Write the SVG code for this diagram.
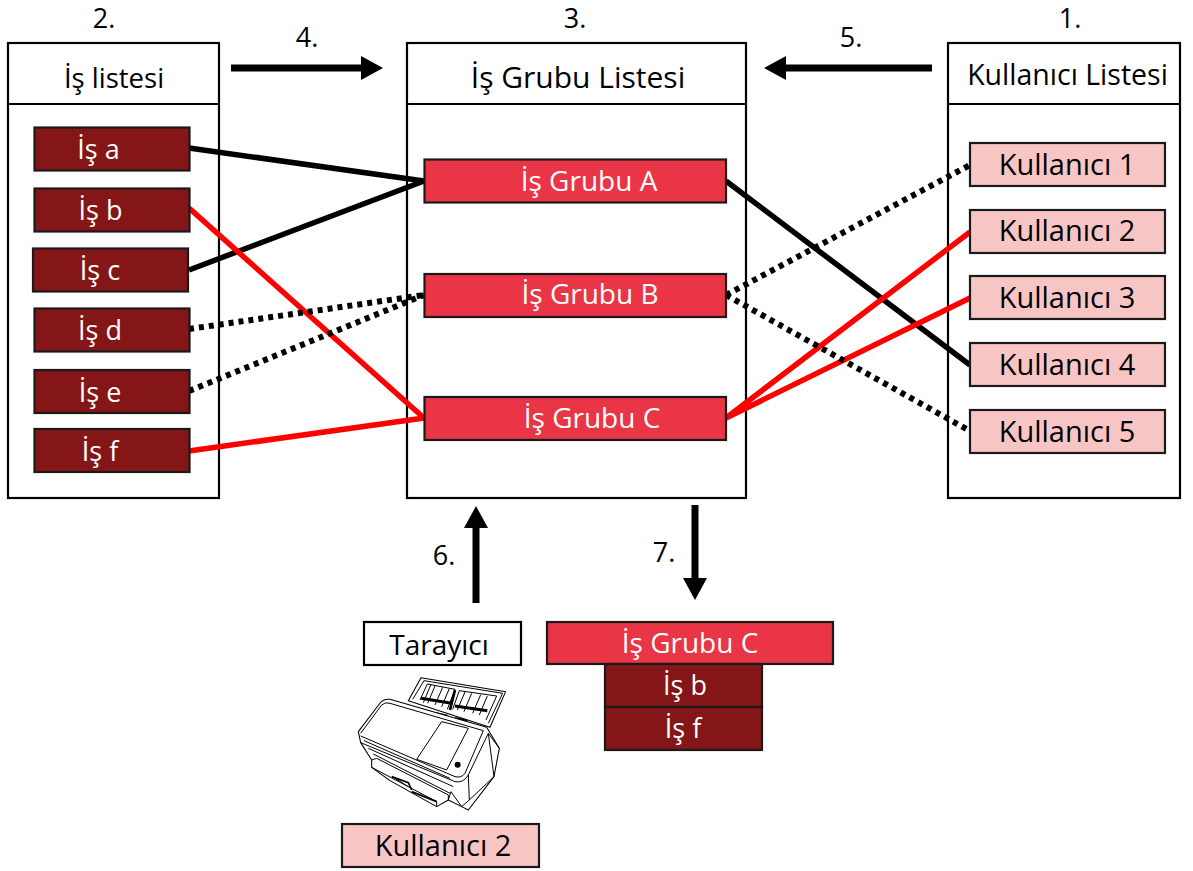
<svg xmlns="http://www.w3.org/2000/svg" width="1193" height="871" viewBox="0 0 1193 871">
<style>
text{font-family:"Open Sans","Noto Sans","Liberation Sans",sans-serif;font-size:27px;text-anchor:middle;fill:#000}
.panel{fill:#fff;stroke:#000;stroke-width:2.2}
.job{fill:#841617;stroke:#1a1a1a;stroke-width:2.2}
.grp{fill:#e93545;stroke:#1a1a1a;stroke-width:2.2}
.usr{fill:#f8c5c5;stroke:#1a1a1a;stroke-width:2.2}
text.w{fill:#fff}
text.m{font-size:28px}
text.l{font-size:29px}
.c{fill:none;stroke-width:5.5}
.k{stroke:#000}.r{stroke:#f00}.d{stroke:#000;stroke-width:6;stroke-dasharray:5 5}
.a{fill:none;stroke:#000;stroke-width:7}
.s{fill:#fff;stroke:#000;stroke-width:3.2;stroke-linejoin:round}
.t{fill:none;stroke:#000;stroke-width:3}
.f{fill:#000;stroke:none}
</style>
<defs><marker id="ah" markerUnits="userSpaceOnUse" markerWidth="24" markerHeight="24" refX="0" refY="12" orient="auto"><path d="M0 0L22 12L0 24Z" fill="#000"/></marker></defs>
<g id="panel-jobs"><rect class="panel" x="8" y="43" width="211" height="455"/><path class="panel" d="M8 104H219"/><text x="114" y="88" style="font-size:27.5px">İş listesi</text></g>
<g id="panel-groups"><rect class="panel" x="407" y="43" width="339" height="455"/><path class="panel" d="M407 104H746"/><text x="578" y="88" style="font-size:30px">İş Grubu Listesi</text></g>
<g id="panel-users"><rect class="panel" x="948" y="43" width="232" height="455"/><path class="panel" d="M948 104H1180"/><text x="1067.500" y="85" style="font-size:28.500px">Kullanıcı Listesi</text></g>
<g id="connectors">
<path class="c k" d="M189 148L424 181M189 270L424 181M726 181L970 365"/>
<path class="c r" d="M189 208L424 418M189 451L424 418M726 418L970 232M726 418L970 298"/>
<path class="c d" d="M189 329L424 295M189 391L424 295M726 295L970 165M726 295L970 431"/>
<path class="a" marker-end="url(#ah)" d="M231 68H361"/>
<path class="a" marker-end="url(#ah)" d="M932 68H786"/>
<path class="a" marker-end="url(#ah)" d="M476 603V528"/>
<path class="a" marker-end="url(#ah)" d="M695 505V578"/>
</g>
<g id="labels"><text x="104" y="28">2.</text><text x="307" y="47">4.</text><text x="575" y="28">3.</text><text x="851" y="47">5.</text><text x="1070" y="28">1.</text><text x="444" y="565">6.</text><text x="664" y="562">7.</text></g>
<g id="job-a"><rect class="job" x="34.500" y="127.500" width="155" height="43"/><text class="w" x="98.500" y="159">İş a</text></g>
<g id="job-b"><rect class="job" x="34.500" y="188.500" width="155" height="43"/><text class="w" x="100.500" y="220">İş b</text></g>
<g id="job-c"><rect class="job" x="33" y="248.500" width="155" height="43"/><text class="w" x="100" y="280">İş c</text></g>
<g id="job-d"><rect class="job" x="34.500" y="308.500" width="155" height="43"/><text class="w" x="100" y="340">İş d</text></g>
<g id="job-e"><rect class="job" x="34.500" y="370" width="155" height="43"/><text class="w" x="100" y="402">İş e</text></g>
<g id="job-f"><rect class="job" x="34.500" y="429" width="155" height="43"/><text class="w" x="100" y="461">İş f</text></g>
<g id="group-a"><rect class="grp" x="424.500" y="159.500" width="301.500" height="43"/><text class="w m" x="589" y="191">İş Grubu A</text></g>
<g id="group-b"><rect class="grp" x="424.500" y="274" width="301.500" height="43"/><text class="w m" x="590" y="304">İş Grubu B</text></g>
<g id="group-c"><rect class="grp" x="424.500" y="397" width="301.500" height="43"/><text class="w m" x="592" y="428">İş Grubu C</text></g>
<g id="user-1"><rect class="usr" x="970" y="143" width="195" height="43"/><text class="l" x="1067" y="175">Kullanıcı 1</text></g>
<g id="user-2"><rect class="usr" x="970" y="210" width="195" height="43"/><text class="l" x="1067" y="241">Kullanıcı 2</text></g>
<g id="user-3"><rect class="usr" x="970" y="276" width="195" height="43"/><text class="l" x="1067" y="308">Kullanıcı 3</text></g>
<g id="user-4"><rect class="usr" x="970" y="343" width="195" height="43"/><text class="l" x="1067" y="375">Kullanıcı 4</text></g>
<g id="user-5"><rect class="usr" x="970" y="410" width="195" height="43"/><text class="l" x="1067" y="442">Kullanıcı 5</text></g>
<g id="scanner-label"><rect class="panel" x="364" y="622" width="157" height="43"/><text class="m" x="439" y="655">Tarayıcı</text></g>
<g id="scanner" transform="translate(340 610) scale(.3333)">
<path class="s" d="M205 272L243 203L497 245L450 352Z"/>
<path class="t" d="M218 268L252 212L488 250L445 340M240 270L262 222L345 238L322 298M338 298L358 242L470 258L438 330"/>
<path class="t" d="M272 225L250 278M285 228L263 280M308 232L285 285M328 236L305 290M375 246L352 300M395 250L372 305M422 254L398 310M442 258L418 315"/>
<path d="M243 265L335 280M345 288L442 302" stroke="#000" stroke-width="9" fill="none"/>
<path d="M285 310L322 318M345 325L382 333M345 240L330 300" stroke="#000" stroke-width="8" fill="none"/>
<path class="s" d="M95 450L95 472L150 512L290 590L325 570L365 590L385 600L462 500L478 415L440 352L150 268Q130 265 118 282L55 365L62 398Z"/>
<path class="t" d="M62 370L125 285Q135 275 150 280L430 362L375 490Q365 505 345 500L62 378M62 398L345 515Q370 520 385 495L445 370L478 415M385 495L388 570L365 590M445 370L462 500M388 570L462 500"/>
<path class="t" d="M230 448L305 335L385 355L320 480Z"/>
<path class="t" d="M72 392L330 505M85 415L340 530M100 432L330 550M325 570L333 545L365 590"/>
<path class="t" d="M95 450L110 445L325 555L325 570M95 472L290 575L290 590"/>
<path d="M155 500L205 518L215 540M215 545L290 575" fill="none" stroke="#000" stroke-width="5"/>
<path class="t" d="M165 505L205 530"/>
<circle class="f" cx="353" cy="464" r="9"/>
</g>
<g id="result-group"><rect class="grp" x="547" y="622" width="286" height="42"/><text class="w m" x="690" y="653">İş Grubu C</text></g>
<g id="result-b"><rect class="job" x="605" y="664" width="157" height="43"/><text class="w" x="685" y="695">İş b</text></g>
<g id="result-f"><rect class="job" x="605" y="707" width="157" height="43"/><text class="w" x="683" y="738">İş f</text></g>
<g id="scanner-user"><rect class="usr" x="342" y="824" width="197" height="43"/><text class="l" x="443" y="856">Kullanıcı 2</text></g>
</svg>
